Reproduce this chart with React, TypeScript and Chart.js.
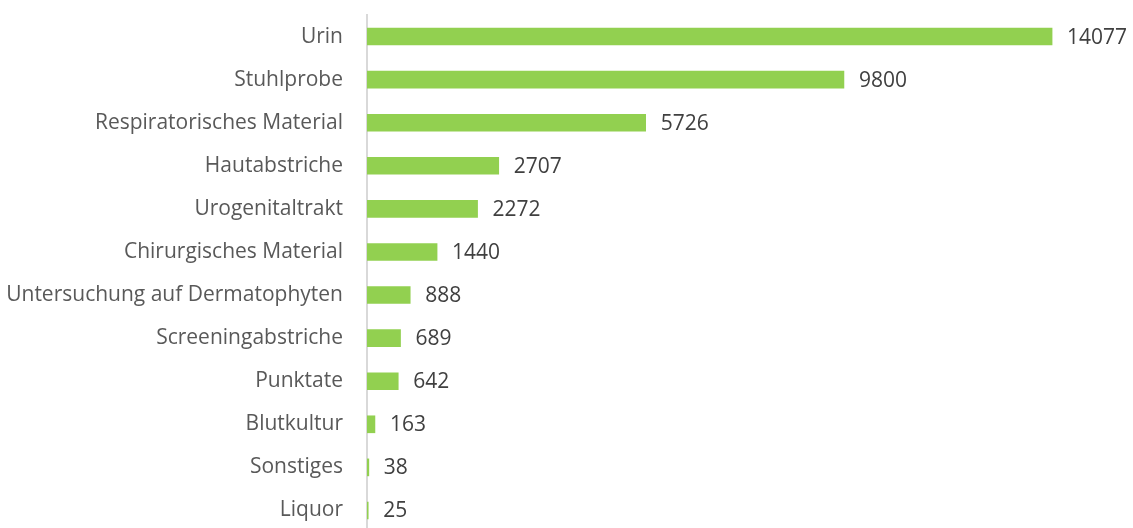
import React, { useEffect, useRef } from "react";
import { Chart, registerables } from "chart.js";

Chart.register(...registerables);

const categories = [
  "Urin",
  "Stuhlprobe",
  "Respiratorisches Material",
  "Hautabstriche",
  "Urogenitaltrakt",
  "Chirurgisches Material",
  "Untersuchung auf Dermatophyten",
  "Screeningabstriche",
  "Punktate",
  "Blutkultur",
  "Sonstiges",
  "Liquor",
];
const values = [14077, 9800, 5726, 2707, 2272, 1440, 888, 689, 642, 163, 38, 25];

const FONT = "'Open Sans', sans-serif";
const FONT_SIZE = 21;

const labelPlugin = {
  id: "valueLabels",
  afterDatasetsDraw(chart: any) {
    const ctx = chart.ctx;
    const meta = chart.getDatasetMeta(0);
    ctx.save();
    ctx.font = `${FONT_SIZE}px ${FONT}`;
    ctx.fillStyle = "#404040";
    ctx.textAlign = "left";
    ctx.textBaseline = "middle";
    meta.data.forEach((bar: any, i: number) => {
      ctx.fillText(String(values[i]), bar.x + 15, bar.y + 1);
    });
    ctx.restore();
  },
};

export default function App() {
  const ref = useRef<HTMLCanvasElement>(null);
  useEffect(() => {
    document.body.style.margin = "0";
    document.body.style.overflow = "hidden";
    const chart = new Chart(ref.current!, {
      type: "bar",
      data: {
        labels: categories,
        datasets: [
          {
            data: values,
            backgroundColor: "#92D050",
            barThickness: 17,
          },
        ],
      },
      options: {
        indexAxis: "y",
        animation: false,
        responsive: false,
        maintainAspectRatio: false,
        layout: { padding: { top: 15, right: 36, bottom: 0, left: 0 } },
        plugins: { legend: { display: false }, tooltip: { enabled: false } },
        scales: {
          x: { display: false, min: 0, max: 15000 },
          y: {
            afterFit: (scale: any) => {
              scale.width = 367;
              scale.paddingTop = 0;
              scale.paddingBottom = 0;
            },
            grid: { display: false, drawTicks: false },
            border: { display: true, color: "#d9d9d9", width: 2 },
            ticks: {
              padding: 24,
              color: "#595959",
              font: { family: FONT, size: FONT_SIZE },
            },
          },
        },
      },
      plugins: [labelPlugin],
    });
    return () => chart.destroy();
  }, []);
  return (
    <div style={{ position: "fixed", left: 0, top: 0, width: 1133, height: 532 }}>
      <canvas ref={ref} width={1133} height={532} style={{ display: "block" }} />
    </div>
  );
}
